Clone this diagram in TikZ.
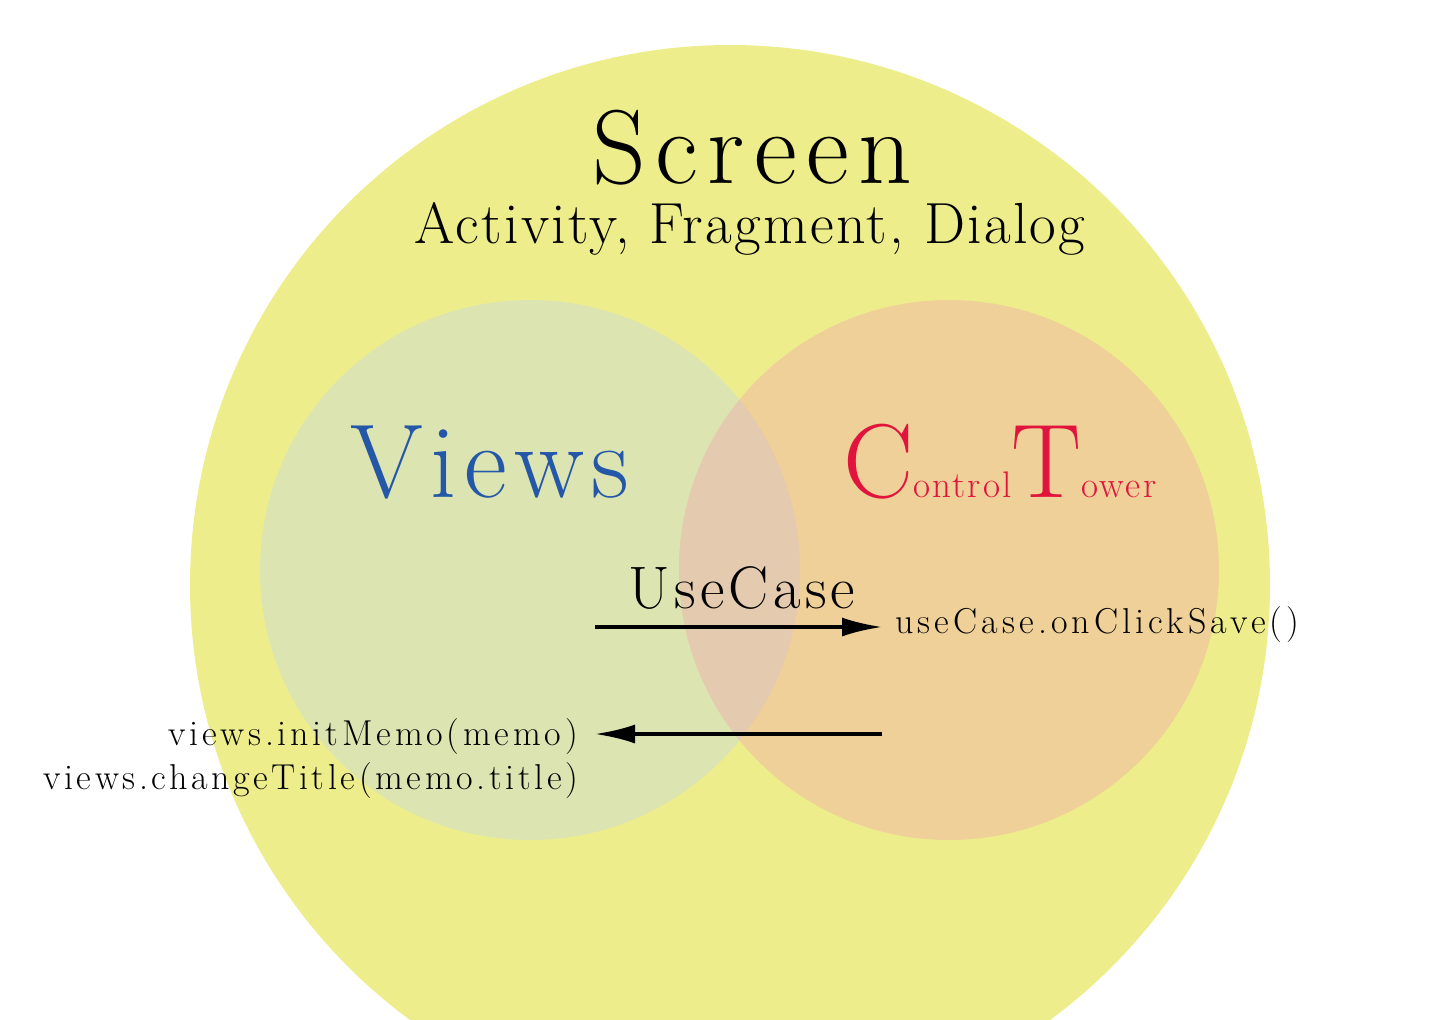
\documentclass[tikz,border=0pt]{standalone}
\usepackage{fontspec}
\setmainfont{Latin Modern Roman}
\usetikzlibrary{arrows.meta}
\definecolor{screenfill}{HTML}{EDED8C}
\definecolor{viewsfill}{HTML}{DCE5B2}
\definecolor{towerfill}{HTML}{EFD098}
\definecolor{sharedfill}{HTML}{E4CAAE}
\definecolor{viewsblue}{HTML}{2457A8}
\definecolor{towerred}{HTML}{E0143C}
% size and letter spacing in one go
\newcommand{\sz}[2]{\fontsize{#1}{#1}\selectfont\addfontfeatures{LetterSpace=#2}}
\begin{document}
\begin{tikzpicture}[x=1pt,y=-1pt,
  label/.style={inner sep=0pt, outer sep=0pt},
  call/.style={-{Latex[length=40pt,width=19pt]}, line width=3.5pt}]
\useasboundingbox (0,0) rectangle (1446,1020);
% the screen circle, cut by the page edge
\begin{scope}
  \clip (0,0) rectangle (1446,1020);
  \fill[screenfill] (730,585) circle (540pt);
\end{scope}
% views and control tower circles with their shared lens
\fill[viewsfill] (530,570) circle (270pt);
\fill[towerfill] (949,570) circle (270pt);
\begin{scope}
  \clip (530,570) circle (270pt);
  \fill[sharedfill] (949,570) circle (270pt);
\end{scope}
% titles
\node[label, anchor=base, font=\sz{105}{9}] (screen) at (752,183) {Screen};
\node[label, anchor=base, font=\sz{58}{4}] (kinds) at (750,243) {Activity, Fragment, Dialog};
\node[label, anchor=base, font=\sz{105}{7}, text=viewsblue] (views) at (490,497) {Views};
\node[label, anchor=base west, text=towerred] (tower) at (843,497)
  {{\sz{105}{4}C}{\sz{37}{6}ontrol}{\sz{105}{4}T}{\sz{37}{6}ower}};
\node[label, anchor=base, font=\sz{60}{7}] (usecase) at (742,608) {UseCase};
% calls between the two parts
\coordinate (callL) at (595,627);
\coordinate (callR) at (882,627);
\coordinate (backR) at (882,734);
\coordinate (backL) at (595,734);
\draw[call] (callL) -- (callR);
\draw[call] (backR) -- (backL);
\node[label, anchor=base west, font=\sz{36}{11.5}] (save) at (895,633) {useCase.onClickSave()};
\node[label, anchor=base east, font=\sz{36}{10.5}] (init) at (578,745) {views.initMemo(memo)};
\node[label, anchor=base east, font=\sz{36}{10}] (title) at (578,789) {views.changeTitle(memo.title)};
\end{tikzpicture}
\end{document}
